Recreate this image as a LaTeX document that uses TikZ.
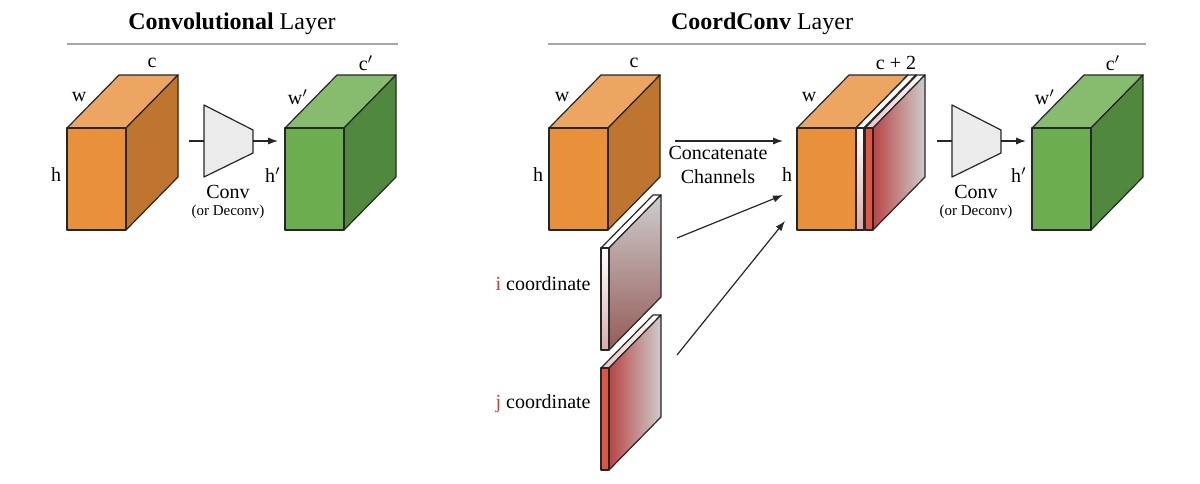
\documentclass[tikz,border=0pt]{standalone}
\usepackage{fontspec}
\setmainfont{Liberation Serif}
\usepackage{xcolor}
\usetikzlibrary{arrows.meta}

\definecolor{orangefront}{HTML}{E8913A}
\definecolor{orangetop}{HTML}{EDA662}
\definecolor{orangeside}{HTML}{BE7530}
\definecolor{greenfront}{HTML}{6CAD4F}
\definecolor{greentop}{HTML}{87BB6D}
\definecolor{greenside}{HTML}{50893E}
\definecolor{coordred}{HTML}{E0553F}
\definecolor{deepred}{HTML}{B94545}
\definecolor{brownred}{HTML}{955B57}
\definecolor{paleslab}{HTML}{CDCDCD}
\definecolor{pinkslab}{HTML}{DBAAAA}
\definecolor{labelred}{HTML}{C8413A}

\tikzset{
    edge/.style={draw=black!85, line width=0.6pt, line join=round},
    flow/.style={draw=black!85, line width=0.6pt, -{Latex[length=5pt,width=3.6pt]}},
    plain/.style={draw=black!85, line width=0.6pt},
    convbox/.style={edge, fill=black!8},
    rule/.style={draw=black!35, line width=1.1pt},
    title/.style={font=\fontsize{12}{14}\selectfont},
    lbl/.style={font=\fontsize{10}{12}\selectfont, inner sep=0pt},
    small/.style={font=\fontsize{7.5}{9}\selectfont, inner sep=0pt}
}

% cube: x of front face, front, top and side colours
\newcommand{\drawcube}[4]{%
    \draw[edge, fill=#3] (#1,128) -- ++(52,-53) -- ++(59,0) -- ++(-52,53) -- cycle;
    \draw[edge, fill=#4] (#1+59,128) -- ++(52,-53) -- ++(0,102) -- ++(-52,53) -- cycle;
    \draw[edge, fill=#2] (#1,128) rectangle ++(59,102);
}
% thin slab: x, y of front top, front, side and top options
\newcommand{\drawslab}[5]{%
    \draw[edge, #5] (#1,#2) -- ++(52,-53) -- ++(8,0) -- ++(-52,53) -- cycle;
    \draw[edge, #4] (#1+8,#2) -- ++(52,-53) -- ++(0,102) -- ++(-52,53) -- cycle;
    \draw[edge, #3] (#1,#2) rectangle ++(8,102);
}

\begin{document}
\begin{tikzpicture}[x=0.5pt, y=-0.5pt]
    \useasboundingbox (0,0) rectangle (1200,483);

    % Titles
    \node[title] (convtitle) at (232,24) {\textbf{Convolutional} Layer};
    \node[title] (cctitle) at (762,24) {\textbf{CoordConv} Layer};
    \draw[rule] (67,44) -- (398,44);
    \draw[rule] (548,44) -- (1146,44);

    % Convolutional layer
    \drawcube{67}{orangefront}{orangetop}{orangeside}
    \drawcube{285}{greenfront}{greentop}{greenside}
    \node[lbl] (c1) at (152,63) {c};
    \node[lbl] (w1) at (79,97) {w};
    \node[lbl] (h1) at (56,175) {h};
    \node[lbl] (c2) at (366,63) {c$'$};
    \node[lbl] (w2) at (298,97) {w$'$};
    \node[lbl] (h2) at (273,175) {h$'$};

    % Conv blocks
    \foreach \x/\n in {204/a, 952/b} {
        \draw[convbox] (\x,105) -- (\x+49,130) -- (\x+49,153) -- (\x,177) -- cycle;
        \coordinate (in-\n) at (\x-15,141);
        \coordinate (conv-\n) at (\x,141);
        \coordinate (convout-\n) at (\x+49,141);
        \coordinate (out-\n) at (\x+74,141);
        \draw[plain] (in-\n) -- (conv-\n);
        \draw[flow] (convout-\n) -- (out-\n);
        \node[lbl] (convname-\n) at (\x+24,192) {Conv};
        \node[small] (deconv-\n) at (\x+24,212) {(or Deconv)};
    }

    % CoordConv input
    \drawcube{549}{orangefront}{orangetop}{orangeside}
    \node[lbl] (c3) at (634,63) {c};
    \node[lbl] (w3) at (562,97) {w};
    \node[lbl] (h3) at (538,175) {h};

    % Coordinate channels
    \drawslab{601}{248}{top color=white, bottom color=pinkslab}{top color=paleslab, bottom color=brownred}{fill=white}
    \drawslab{601}{368}{fill=coordred}{left color=deepred, right color=paleslab}{left color=pinkslab!70, right color=white}
    \node[lbl, anchor=east] (icoord) at (591,284) {\textcolor{labelred}{i} coordinate};
    \node[lbl, anchor=east] (jcoord) at (591,404) {\textcolor{labelred}{j} coordinate};

    % Concatenated tensor
    \drawcube{797}{orangefront}{orangetop}{orangeside}
    \drawslab{856}{128}{top color=white, bottom color=pinkslab}{fill=paleslab}{fill=white}
    \drawslab{865}{128}{fill=coordred}{left color=deepred, right color=paleslab}{left color=pinkslab!70, right color=white}
    \node[lbl] (c4) at (896,63) {c + 2};
    \node[lbl] (w4) at (809,97) {w};
    \node[lbl] (h4) at (787,175) {h};

    % Concatenate arrows
    \coordinate (feat-out) at (675,141);
    \coordinate (cat-in) at (783,141);
    \coordinate (i-out) at (677,238);
    \coordinate (i-in) at (783,195);
    \coordinate (j-out) at (677,355);
    \coordinate (j-in) at (785,221);
    \draw[flow] (feat-out) -- (cat-in);
    \draw[flow] (i-out) -- (i-in);
    \draw[flow] (j-out) -- (j-in);
    \node[lbl] (concat) at (718,153) {Concatenate};
    \node[lbl] (channels) at (718,177) {Channels};

    % CoordConv output
    \drawcube{1032}{greenfront}{greentop}{greenside}
    \node[lbl] (c5) at (1113,63) {c$'$};
    \node[lbl] (w5) at (1045,97) {w$'$};
    \node[lbl] (h5) at (1019,175) {h$'$};
\end{tikzpicture}
\end{document}
